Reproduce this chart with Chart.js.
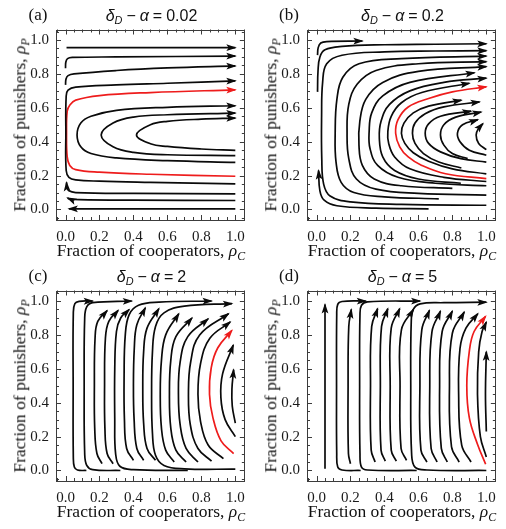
<!DOCTYPE html>
<html>
<head>
<meta charset="utf-8">
<script src="https://cdn.jsdelivr.net/npm/chart.js@4.4.0/dist/chart.umd.min.js"></script>
<style>
  html, body { margin: 0; padding: 0; background: #fff; }
  #wrap { position: relative; width: 506px; height: 529px; overflow: hidden; }
  .panel { position: absolute; width: 253px; height: 268px; }
  .panel canvas { position: absolute; left: 0; top: 0; }
  .lbl { position: absolute; white-space: nowrap; transform: translate(-50%, -50%); line-height: 1; color: #111; }
  .letter { font-family: "Liberation Serif", serif; font-size: 17px; }
  .title { font-family: "Liberation Sans", sans-serif; font-size: 16px; }
  .title .op { margin: 0 4px; }
  .axt { font-family: "Liberation Serif", serif; font-size: 17.5px; }
  .ylab { transform: translate(-50%, -50%) rotate(-90deg); }
  .lbl sub { font-size: 0.68em; vertical-align: -0.3em; line-height: 0; }
</style>
</head>
<body>
<div id="wrap"></div>
<script>
// panel labels and titles
const panelLetters = ['(a)', '(b)', '(c)', '(d)'];
const panelValues = ['0.02', '0.2', '2', '5'];
const tickValues = [0, 0.2, 0.4, 0.6, 0.8, 1.0];
const panelOrigins = [[0, 0], [251, 0], [0, 261], [251, 261]];

// streamlines, [rhoC, rhoP] points, last point = arrow tip
const flowA = [
    [[0.006,0.955],[1.0,0.955]],
    [[0.0,0.833],[0.002,0.87],[0.012,0.89],[0.04,0.897],[0.3,0.9],[1.0,0.905]],
    [[0.0,0.735],[0.003,0.77],[0.015,0.79],[0.05,0.8],[0.3,0.82],[0.6,0.835],[1.0,0.847]],
    [[1.0,0.151],[0.5,0.16],[0.2,0.167],[0.06,0.175],[0.02,0.19],[0.004,0.23],[0.002,0.45],[0.004,0.67],[0.015,0.704],[0.06,0.722],[0.3,0.735],[0.6,0.745],[1.0,0.759]],
    [[1.0,0.278],[0.6,0.288],[0.3,0.304],[0.15,0.33],[0.09,0.37],[0.068,0.44],[0.09,0.51],[0.15,0.55],[0.3,0.585],[0.6,0.603],[1.0,0.612]],
    [[1.0,0.318],[0.6,0.323],[0.4,0.337],[0.28,0.37],[0.21,0.44],[0.28,0.51],[0.4,0.545],[0.6,0.559],[1.0,0.569]],
    [[1.0,0.349],[0.8,0.357],[0.6,0.372],[0.5,0.388],[0.418,0.44],[0.5,0.5],[0.6,0.52],[0.8,0.533],[1.0,0.539]],
    [[1.0,0.092],[0.4,0.095],[0.06,0.1],[0.02,0.11],[0.008,0.13],[0.006,0.16]],
    [[1.0,0.053],[0.4,0.055],[0.08,0.058],[0.025,0.062],[0.012,0.068]],
    [[1.0,0.004],[0.02,0.004]]
];
const redA = [[1.0,0.196],[0.5,0.208],[0.2,0.22],[0.06,0.235],[0.025,0.26],[0.01,0.31],[0.006,0.45],[0.01,0.58],[0.025,0.615],[0.06,0.645],[0.2,0.672],[0.5,0.69],[1.0,0.706]];

const flowB = [
    [[0.006,0.911],[0.01,0.955],[0.025,0.982],[0.06,0.991],[0.27,0.994]],
    [[0.006,0.694],[0.009,0.82],[0.02,0.9],[0.05,0.942],[0.15,0.962],[0.4,0.972],[0.7,0.975],[1.0,0.978]],
    [[0.66,0.004],[0.35,0.008],[0.12,0.022],[0.045,0.055],[0.02,0.11],[0.012,0.23]],
    [[1.0,0.025],[0.5,0.03],[0.2,0.045],[0.08,0.08],[0.042,0.15],[0.031,0.3],[0.03,0.55],[0.036,0.75],[0.06,0.86],[0.15,0.91],[0.4,0.93],[0.7,0.935],[1.0,0.937]],
    [[0.72,0.063],[0.4,0.075],[0.22,0.1],[0.145,0.16],[0.115,0.28],[0.11,0.45],[0.12,0.65],[0.155,0.78],[0.25,0.86],[0.5,0.89],[1.0,0.905]],
    [[1.0,0.085],[0.6,0.095],[0.35,0.12],[0.235,0.18],[0.19,0.3],[0.18,0.45],[0.19,0.62],[0.24,0.74],[0.35,0.82],[0.6,0.86],[1.0,0.872]],
    [[0.8,0.125],[0.5,0.14],[0.34,0.18],[0.27,0.26],[0.25,0.38],[0.255,0.52],[0.29,0.65],[0.39,0.75],[0.6,0.815],[1.0,0.843]],
    [[1.0,0.14],[0.7,0.155],[0.48,0.19],[0.36,0.26],[0.315,0.36],[0.31,0.46],[0.325,0.57],[0.39,0.67],[0.55,0.75],[0.93,0.807]],
    [[0.85,0.155],[0.6,0.18],[0.46,0.23],[0.39,0.31],[0.37,0.42],[0.38,0.52],[0.43,0.62],[0.55,0.7],[0.75,0.75],[1.0,0.775]],
    [[1.0,0.165],[0.75,0.19],[0.55,0.24],[0.46,0.31],[0.425,0.39],[0.42,0.46],[0.44,0.55],[0.5,0.63],[0.62,0.69],[0.9,0.745]],
    [[1.0,0.21],[0.8,0.24],[0.66,0.285],[0.57,0.335],[0.52,0.39],[0.5,0.45],[0.515,0.51],[0.57,0.57],[0.66,0.61],[0.853,0.645]],
    [[0.853,0.245],[0.72,0.28],[0.63,0.33],[0.58,0.39],[0.565,0.45],[0.58,0.51],[0.64,0.565],[0.75,0.605],[0.96,0.635]],
    [[1.0,0.28],[0.85,0.3],[0.73,0.34],[0.66,0.39],[0.64,0.45],[0.66,0.505],[0.73,0.55],[0.91,0.58]],
    [[0.89,0.3],[0.8,0.33],[0.75,0.38],[0.73,0.44],[0.75,0.5],[0.82,0.545],[0.97,0.575]],
    [[1.0,0.32],[0.9,0.35],[0.845,0.4],[0.83,0.45],[0.86,0.5],[0.95,0.53]],
    [[1.0,0.353],[0.955,0.39],[0.94,0.44],[0.955,0.48],[0.98,0.507]]
];
const redB = [[1.0,0.182],[0.76,0.211],[0.62,0.26],[0.54,0.31],[0.49,0.37],[0.466,0.45],[0.48,0.53],[0.54,0.605],[0.66,0.655],[0.8,0.694],[1.0,0.724]];

const flowC = [
    [[0.123,0.0],[0.07,0.003],[0.052,0.02],[0.046,0.08],[0.045,0.5],[0.046,0.93],[0.055,0.985],[0.08,0.998],[0.16,1.0]],
    [[0.323,0.0],[0.16,0.005],[0.125,0.03],[0.113,0.1],[0.11,0.5],[0.113,0.9],[0.125,0.965],[0.16,0.99],[0.39,1.0]],
    [[0.215,0.04],[0.185,0.1],[0.172,0.25],[0.17,0.5],[0.174,0.78],[0.19,0.88],[0.245,0.943]],
    [[0.28,0.04],[0.245,0.1],[0.232,0.25],[0.23,0.5],[0.235,0.78],[0.255,0.88],[0.31,0.945]],
    [[0.72,0.0],[0.4,0.005],[0.32,0.025],[0.295,0.1],[0.29,0.3],[0.29,0.6],[0.3,0.82],[0.325,0.9],[0.375,0.95]],
    [[0.4,0.06],[0.36,0.13],[0.347,0.3],[0.345,0.55],[0.352,0.8],[0.375,0.92],[0.43,0.975],[0.55,0.993],[0.86,1.0]],
    [[0.46,0.06],[0.42,0.13],[0.404,0.3],[0.4,0.5],[0.405,0.72],[0.42,0.86],[0.47,0.96]],
    [[0.53,0.06],[0.48,0.13],[0.46,0.28],[0.455,0.48],[0.46,0.7],[0.48,0.84],[0.55,0.955]],
    [[1.0,0.008],[0.7,0.01],[0.58,0.03],[0.53,0.09],[0.512,0.22],[0.507,0.45],[0.512,0.7],[0.53,0.85],[0.58,0.93],[0.7,0.97],[0.98,0.985]],
    [[0.64,0.05],[0.59,0.12],[0.565,0.25],[0.558,0.45],[0.565,0.65],[0.59,0.8],[0.667,0.925]],
    [[0.71,0.05],[0.65,0.12],[0.62,0.25],[0.612,0.45],[0.62,0.65],[0.65,0.79],[0.745,0.9]],
    [[0.78,0.05],[0.71,0.13],[0.675,0.27],[0.665,0.45],[0.675,0.64],[0.72,0.79],[0.84,0.895]],
    [[0.86,0.055],[0.78,0.13],[0.735,0.27],[0.724,0.45],[0.737,0.64],[0.79,0.8],[0.96,0.925]],
    [[0.93,0.07],[0.84,0.15],[0.795,0.29],[0.78,0.45],[0.795,0.63],[0.85,0.78],[0.97,0.876]],
    [[1.0,0.2],[0.94,0.3],[0.915,0.43],[0.925,0.57],[0.988,0.74]],
    [[1.0,0.28],[0.982,0.38],[0.98,0.48],[0.99,0.595]]
];
const redC = [[0.99,0.1],[0.916,0.175],[0.868,0.312],[0.848,0.449],[0.858,0.606],[0.897,0.724],[0.98,0.827]];

const flowD = [
    [[0.05,0.01],[0.05,0.98]],
    [[0.26,0.0],[0.15,0.003],[0.125,0.02],[0.119,0.1],[0.118,0.5],[0.119,0.92],[0.125,0.98],[0.15,0.997],[0.29,1.0]],
    [[0.2,0.04],[0.188,0.1],[0.186,0.5],[0.19,0.85],[0.205,0.95]],
    [[0.59,0.0],[0.3,0.003],[0.265,0.02],[0.256,0.1],[0.254,0.5],[0.256,0.92],[0.265,0.975],[0.3,0.995],[0.61,1.0]],
    [[0.345,0.05],[0.322,0.12],[0.318,0.5],[0.325,0.85],[0.36,0.955]],
    [[0.405,0.055],[0.38,0.12],[0.376,0.5],[0.383,0.85],[0.42,0.955]],
    [[0.47,0.055],[0.44,0.12],[0.434,0.5],[0.44,0.84],[0.49,0.955]],
    [[0.53,0.06],[0.498,0.13],[0.492,0.5],[0.5,0.83],[0.57,0.95]],
    [[1.0,0.0],[0.65,0.003],[0.58,0.02],[0.56,0.1],[0.555,0.5],[0.558,0.88],[0.57,0.95],[0.61,0.983],[0.75,0.99],[1.0,0.993]],
    [[0.65,0.05],[0.615,0.12],[0.609,0.5],[0.62,0.83],[0.665,0.945]],
    [[0.71,0.05],[0.675,0.13],[0.667,0.5],[0.68,0.82],[0.73,0.94]],
    [[0.77,0.05],[0.735,0.13],[0.725,0.5],[0.74,0.82],[0.8,0.94]],
    [[0.84,0.05],[0.795,0.14],[0.783,0.5],[0.8,0.81],[0.87,0.935]],
    [[0.91,0.05],[0.855,0.15],[0.837,0.45],[0.845,0.72],[0.88,0.84],[0.95,0.925]],
    [[1.0,0.08],[0.965,0.2],[0.948,0.45],[0.955,0.7],[0.975,0.82],[1.0,0.875]],
    [[1.0,0.23],[0.995,0.45],[1.0,0.7]]
];
const redD = [[0.996,0.037],[0.948,0.155],[0.9,0.31],[0.885,0.5],[0.9,0.704],[0.928,0.82],[0.996,0.91]];

const allFlows = [flowA, flowB, flowC, flowD];
const allReds = [redA, redB, redC, redD];

const LINE_BLACK = '#0a0a0a';
const LINE_RED = '#ee1c1c';
const FRAME = '#3c3c3c';

// arrow heads at the end of every streamline, plus the Mathematica-style frame ticks
const streamDecor = {
    id: 'streamDecor',
    afterDatasetsDraw(chart) {
        const ctx = chart.ctx;
        chart.data.datasets.forEach((ds, i) => {
            const pts = chart.getDatasetMeta(i).data;
            const n = pts.length;
            if (n < 2) return;
            const p1 = pts[n - 1];
            let bx = p1.cp1x, by = p1.cp1y;
            if (bx === undefined || Math.hypot(p1.x - bx, p1.y - by) < 0.5) {
                bx = pts[n - 2].x;
                by = pts[n - 2].y;
            }
            const len = Math.hypot(p1.x - bx, p1.y - by) || 1;
            const ux = (p1.x - bx) / len, uy = (p1.y - by) / len;
            const L = 9, W = 3.4;
            ctx.save();
            ctx.fillStyle = ds.borderColor;
            ctx.beginPath();
            ctx.moveTo(p1.x + ux * 1.5, p1.y + uy * 1.5);
            ctx.lineTo(p1.x - ux * L - uy * W, p1.y - uy * L + ux * W);
            ctx.lineTo(p1.x - ux * L * 0.75, p1.y - uy * L * 0.75);
            ctx.lineTo(p1.x - ux * L + uy * W, p1.y - uy * L - ux * W);
            ctx.closePath();
            ctx.fill();
            ctx.restore();
        });
    },
    afterDraw(chart) {
        const ctx = chart.ctx;
        const { left, right, top, bottom } = chart.chartArea;
        const xs = chart.scales.x, ys = chart.scales.y;
        ctx.save();
        ctx.strokeStyle = FRAME;
        ctx.lineWidth = 1;
        ctx.strokeRect(Math.round(left) + 0.5, Math.round(top) + 0.5, Math.round(right - left) - 1, Math.round(bottom - top) - 1);
        ctx.beginPath();
        for (let k = -1; k <= 21; k++) {
            const v = k * 0.05;
            const len = (k % 4 === 0) ? 5 : 3;
            const px = Math.round(xs.getPixelForValue(v)) + 0.5;
            ctx.moveTo(px, bottom); ctx.lineTo(px, bottom - len);
            ctx.moveTo(px, top); ctx.lineTo(px, top + len);
            const py = Math.round(ys.getPixelForValue(v)) + 0.5;
            ctx.moveTo(left, py); ctx.lineTo(left + len, py);
            ctx.moveTo(right, py); ctx.lineTo(right - len, py);
        }
        ctx.stroke();
        ctx.restore();
    }
};

const toXY = line => line.map(p => ({ x: p[0], y: p[1] }));

const makePanel = (idx) => {
    const [ox, oy] = panelOrigins[idx];
    const wrap = document.getElementById('wrap');
    const panel = document.createElement('div');
    panel.className = 'panel';
    panel.style.left = ox + 'px';
    panel.style.top = oy + 'px';
    wrap.appendChild(panel);

    const canvas = document.createElement('canvas');
    canvas.width = 253;
    canvas.height = 268;
    panel.appendChild(canvas);

    const addLabel = (cls, html, x, y) => {
        const d = document.createElement('div');
        d.className = 'lbl ' + cls;
        d.innerHTML = html;
        d.style.left = x + 'px';
        d.style.top = y + 'px';
        panel.appendChild(d);
    };
    addLabel('letter', panelLetters[idx], 38, 13.5);
    addLabel('title', '<i>δ</i><sub><i>D</i></sub><span class="op">−</span><i>α</i><span class="op">=</span>' + panelValues[idx], 151.5, 15.5);
    addLabel('axt', 'Fraction of cooperators, <i>ρ</i><sub><i>C</i></sub>', 151, 251);
    addLabel('axt ylab', 'Fraction of punishers, <i>ρ</i><sub><i>P</i></sub>', 20, 124.5);

    const datasets = allFlows[idx].map(line => ({
        data: toXY(line),
        borderColor: LINE_BLACK,
        borderWidth: 1.7,
        pointRadius: 0,
        showLine: true,
        tension: 0.4,
        fill: false
    }));
    datasets.push({
        data: toXY(allReds[idx]),
        borderColor: LINE_RED,
        borderWidth: 1.7,
        pointRadius: 0,
        showLine: true,
        tension: 0.4,
        fill: false
    });

    const tickFont = { family: '"Liberation Serif", serif', size: 15 };
    new Chart(canvas, {
        type: 'scatter',
        data: { datasets },
        options: {
            responsive: false,
            animation: false,
            events: [],
            layout: { padding: { left: 16, right: 6, top: 29.5, bottom: 24 } },
            plugins: { legend: { display: false }, tooltip: { enabled: false } },
            scales: {
                x: {
                    type: 'linear',
                    min: -0.056,
                    max: 1.056,
                    afterFit: s => { s.height = 24; },
                    afterBuildTicks: s => { s.ticks = tickValues.map(v => ({ value: v })); },
                    grid: { display: false, drawTicks: false },
                    border: { display: false },
                    ticks: { color: '#1a1a1a', font: tickFont, padding: 8, maxRotation: 0,
                             callback: v => v.toFixed(1) }
                },
                y: {
                    type: 'linear',
                    min: -0.062,
                    max: 1.062,
                    afterFit: s => { s.width = 40; },
                    afterBuildTicks: s => { s.ticks = tickValues.map(v => ({ value: v })); },
                    grid: { display: false, drawTicks: false },
                    border: { display: false },
                    ticks: { color: '#1a1a1a', font: tickFont, padding: 7,
                             callback: v => v.toFixed(1) }
                }
            }
        },
        plugins: [streamDecor]
    });
};

[0, 1, 2, 3].forEach(makePanel);
</script>
</body>
</html>
